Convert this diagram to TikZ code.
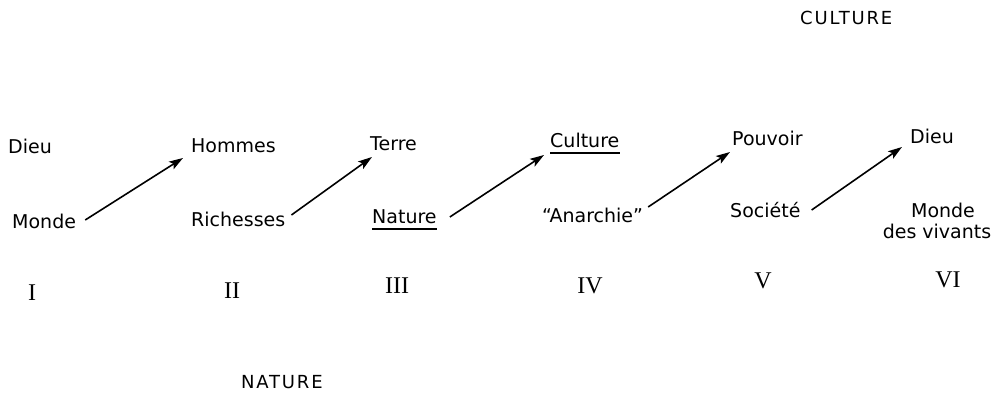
\documentclass[tikz,border=0pt]{standalone}
\usepackage{fontspec}
\setmainfont{DejaVu Sans}
\newfontfamily\numfont{Liberation Serif}
\newfontfamily\capsfont[LetterSpace=10]{DejaVu Sans}
\usetikzlibrary{arrows.meta}
\begin{document}
\begin{tikzpicture}[x=1pt,y=-1pt,
  word/.style={inner sep=0pt,anchor=base west,font=\fontsize{19}{22}\selectfont},
  cword/.style={inner sep=0pt,anchor=base,font=\fontsize{19}{22}\selectfont},
  numeral/.style={inner sep=0pt,anchor=base,font=\numfont\fontsize{24}{26}\selectfont},
  bigcap/.style={inner sep=0pt,anchor=base west,font=\capsfont\fontsize{18}{22}\selectfont},
  arr/.style={line width=1.6pt,-{Stealth[length=14pt,width=9pt,inset=3pt]}},
  uline/.style={line width=1.4pt}]
\useasboundingbox (0,0) rectangle (1004,396);
% top titles
\node[bigcap] (culturetitle) at (800,25) {CULTURE};
\node[bigcap] (naturetitle) at (241,388) {NATURE};
% top row
\node[word] (dieuL) at (8,153) {Dieu};
\node[word] (hommes) at (191,152) {Hommes};
\node[word] (terre) at (370,150) {Terre};
\node[word] (culture) at (550,147) {Culture};
\node[word] (pouvoir) at (732,145) {Pouvoir};
\node[word] (dieuR) at (910,143) {Dieu};
% bottom row
\node[word] (mondeL) at (12,228) {Monde};
\node[word] (richesses) at (191,226) {Richesses};
\node[word] (nature) at (372,223) {Nature};
\node[word] (anarchie) at (542,222) {“Anarchie”};
\node[word] (societe) at (730,217) {Société};
\node[cword] (mondeR) at (943,217) {Monde};
\node[cword] (vivants) at (937,238) {des vivants};
% numerals
\node[numeral] (n1) at (32,300) {I};
\node[numeral] (n2) at (232,298) {II};
\node[numeral] (n3) at (397,293) {III};
\node[numeral] (n4) at (590,293) {IV};
\node[numeral] (n5) at (763,288) {V};
\node[numeral] (n6) at (948,287) {VI};
% underlines
\draw[uline] ([yshift=-6pt]culture.base west) -- ([yshift=-6pt]culture.base east);
\draw[uline] ([yshift=-6pt]nature.base west) -- ([yshift=-6pt]nature.base east);
% arrows
\draw[arr] ([shift={(9,-8)}]mondeL.base east) -- ([shift={(-8,6)}]hommes.base west);
\draw[arr] ([shift={(6,-11)}]richesses.base east) -- ([shift={(2,7)}]terre.base west);
\draw[arr] ([shift={(13,-6)}]nature.base east) -- ([shift={(-6,8)}]culture.base west);
\draw[arr] ([shift={(5,-15)}]anarchie.base east) -- ([shift={(-2,7)}]pouvoir.base west);
\draw[arr] ([shift={(11,-7)}]societe.base east) -- ([shift={(-8,4)}]dieuR.base west);
\end{tikzpicture}
\end{document}
